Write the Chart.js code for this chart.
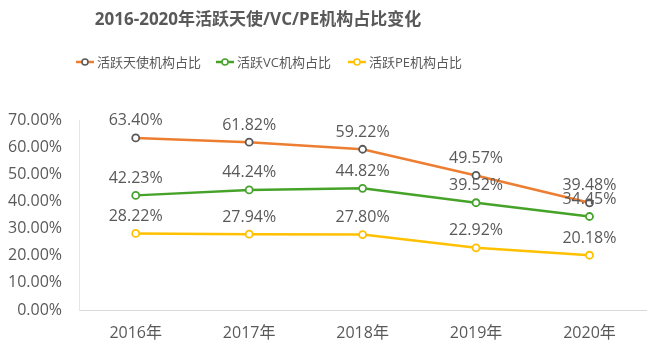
<!DOCTYPE html>
<html>
<head>
<meta charset="utf-8">
<script src="https://cdn.jsdelivr.net/npm/chart.js@4.4.1/dist/chart.umd.min.js"></script>
<style>
html,body{margin:0;padding:0;background:#fff;}
#wrap{width:652px;height:360px;position:relative;}
</style>
</head>
<body>
<div id="wrap"><canvas id="c" width="652" height="360"></canvas></div>
<script>
const categories = ['2016年','2017年','2018年','2019年','2020年'];
const angelShare = [63.40, 61.82, 59.22, 49.57, 39.48];
const vcShare = [42.23, 44.24, 44.82, 39.52, 34.45];
const peShare = [28.22, 27.94, 27.80, 22.92, 20.18];
const seriesNames = ['活跃天使机构占比','活跃VC机构占比','活跃PE机构占比'];
const yTicks = [0, 10, 20, 30, 40, 50, 60, 70];
const titleText = '2016-2020年活跃天使/VC/PE机构占比变化';

const FONT = '"Open Sans", "Noto Sans CJK SC", sans-serif';
const TEXT = '#595959';
const COLORS = ['#ED7D31', '#46A32A', '#FFC000'];
const POINT_BORDER = ['#595959', '#46A32A', '#FFC000'];

const headerPlugin = {
  id: 'header',
  afterDraw(chart) {
    const ctx = chart.ctx;
    ctx.save();
    ctx.fillStyle = TEXT;
    ctx.font = 'bold 17px ' + FONT;
    ctx.textAlign = 'center';
    ctx.textBaseline = 'middle';
    ctx.fillText(titleText, 258, 20);
    // legend
    const xs = [76, 216, 348];
    ctx.font = '13px ' + FONT;
    ctx.textAlign = 'left';
    chart.data.datasets.forEach((ds, i) => {
      const x = xs[i], y = 62;
      ctx.strokeStyle = COLORS[i];
      ctx.lineWidth = 2.5;
      ctx.beginPath(); ctx.moveTo(x, y); ctx.lineTo(x + 18, y); ctx.stroke();
      ctx.beginPath(); ctx.arc(x + 9, y, 3, 0, Math.PI * 2);
      ctx.fillStyle = '#fff'; ctx.fill();
      ctx.lineWidth = 1.5; ctx.strokeStyle = POINT_BORDER[i]; ctx.stroke();
      ctx.fillStyle = TEXT;
      ctx.fillText(ds.label, x + 21, y + 1);
    });
    ctx.restore();
  }
};

const labelPlugin = {
  id: 'pointLabels',
  afterDatasetsDraw(chart) {
    const ctx = chart.ctx;
    ctx.save();
    ctx.fillStyle = TEXT;
    ctx.font = '16px ' + FONT;
    ctx.textAlign = 'center';
    ctx.textBaseline = 'middle';
    chart.data.datasets.forEach((ds, i) => {
      const meta = chart.getDatasetMeta(i);
      meta.data.forEach((pt, j) => {
        ctx.fillText(ds.data[j].toFixed(2) + '%', pt.x, pt.y - 17);
      });
    });
    ctx.restore();
  }
};

function mk(label, data, i) {
  return {
    label, data,
    borderColor: COLORS[i],
    backgroundColor: '#fff',
    borderWidth: 2.5,
    pointRadius: 3.5,
    pointBorderWidth: 1.8,
    pointBorderColor: POINT_BORDER[i],
    pointBackgroundColor: '#fff',
    tension: 0,
    clip: false
  };
}

new Chart(document.getElementById('c'), {
  type: 'line',
  data: {
    labels: categories,
    datasets: [
      mk(seriesNames[0], angelShare, 0),
      mk(seriesNames[1], vcShare, 1),
      mk(seriesNames[2], peShare, 2)
    ]
  },
  options: {
    responsive: false,
    animation: false,
    layout: { padding: { top: 120, left: 0, right: 0, bottom: 0 } },
    plugins: { legend: { display: false }, title: { display: false }, tooltip: { enabled: false } },
    scales: {
      x: {
        offset: true,
        grid: { display: false, drawTicks: false },
        border: { display: true, color: '#D9D9D9', width: 1 },
        ticks: { color: TEXT, font: { family: FONT, size: 16 }, padding: 14 },
        afterFit(s) { s.height = 50; }
      },
      y: {
        min: 0, max: 70,
        afterBuildTicks(s) { s.ticks = yTicks.map(v => ({ value: v })); },
        grid: { display: false, drawTicks: false },
        border: { display: true, color: '#E6E6E6', width: 1 },
        ticks: { color: TEXT, font: { family: FONT, size: 16 }, padding: 17,
                 callback: v => v.toFixed(2) + '%' },
        afterFit(s) { s.width = 79; }
      }
    }
  },
  plugins: [headerPlugin, labelPlugin]
});
</script>
</body>
</html>
